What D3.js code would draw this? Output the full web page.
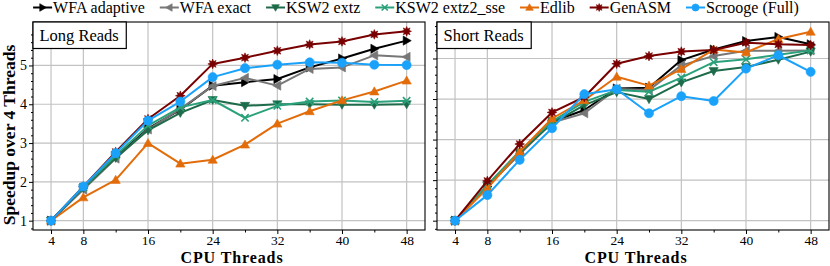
<!DOCTYPE html>
<html><head><meta charset="utf-8">
<script src="https://cdn.jsdelivr.net/npm/d3@7"></script>
<style>
html,body{margin:0;padding:0;background:#fff;}
svg text{font-family:"Liberation Serif","Times New Roman",serif;fill:#000;}
</style></head>
<body><svg id="c" width="830" height="266"></svg>
<script>
// ---- data ----
const threads = [4, 8, 12, 16, 20, 24, 28, 32, 36, 40, 44, 48];
const seriesNames = ["WFA adaptive", "WFA exact", "KSW2 extz", "KSW2 extz2_sse", "Edlib", "GenASM", "Scrooge (Full)"];
const panelTitles = ["Long Reads", "Short Reads"];
const xTickLabels = [4, 8, 16, 24, 32, 40, 48];
const xMinorTicks = [12, 20, 28, 36, 44];
const yTickLabels = [1, 2, 3, 4, 5];

const longWfaAdaptive = [1, 1.84, 2.64, 3.37, 3.86, 4.48, 4.57, 4.65, 4.95, 5.18, 5.43, 5.64];
const longWfaExact    = [1, 1.80, 2.60, 3.35, 3.88, 4.47, 4.68, 4.48, 4.91, 4.95, 5.26, 5.22];
const longKsw2Extz    = [1, 1.84, 2.62, 3.33, 3.78, 4.11, 3.96, 4.00, 4.00, 3.99, 3.99, 4.00];
const longKsw2Sse     = [1, 1.86, 2.68, 3.45, 3.92, 4.11, 3.65, 3.96, 4.07, 4.10, 4.06, 4.09];
const longEdlib       = [1, 1.60, 2.05, 3.00, 2.47, 2.57, 2.96, 3.50, 3.82, 4.10, 4.33, 4.61];
const longGenASM      = [1, 1.88, 2.77, 3.62, 4.22, 5.04, 5.20, 5.38, 5.54, 5.62, 5.80, 5.88];
const longScrooge     = [1, 1.88, 2.74, 3.58, 4.07, 4.70, 4.93, 5.02, 5.08, 5.07, 5.02, 5.01];

const shortWfaAdaptive = [1, 1.84, 2.66, 3.44, 3.73, 4.26, 4.28, 4.96, 5.22, 5.43, 5.53, 5.35];
const shortWfaExact    = [1, 1.84, 2.64, 3.42, 3.65, 4.25, 4.22, 4.83, 5.06, 5.19, 5.19, 5.20];
const shortKsw2Extz    = [1, 1.86, 2.68, 3.40, 3.85, 4.17, 4.00, 4.41, 4.69, 4.79, 4.97, 5.17];
const shortKsw2Sse     = [1, 1.88, 2.72, 3.45, 3.93, 4.22, 4.18, 4.53, 4.91, 4.98, 5.09, 5.20];
const shortEdlib       = [1, 1.80, 2.70, 3.52, 3.97, 4.55, 4.33, 4.74, 5.22, 5.15, 5.48, 5.66];
const shortGenASM      = [1, 1.98, 2.89, 3.67, 4.05, 4.87, 5.06, 5.17, 5.21, 5.39, 5.35, 5.33];
const shortScrooge     = [1, 1.63, 2.50, 3.28, 4.12, 4.24, 3.65, 4.07, 3.95, 4.75, 5.08, 4.67];

const longData  = [longWfaAdaptive, longWfaExact, longKsw2Extz, longKsw2Sse, longEdlib, longGenASM, longScrooge];
const shortData = [shortWfaAdaptive, shortWfaExact, shortKsw2Extz, shortKsw2Sse, shortEdlib, shortGenASM, shortScrooge];

// ---- styles ----
const colors  = ["#000000", "#777777", "#1d6b4a", "#2aa17b", "#e36c0a", "#780000", "#1aa2fb"];
const markers = ["tri-right", "tri-left", "tri-down", "x", "tri-up", "star8", "circle"];
const serif = "Liberation Serif, Times New Roman, serif";

const svg = d3.select("#c");

function markerPath(type, s) {
  const p = d3.path();
  if (type === "tri-right") { p.moveTo(s, 0); p.lineTo(-s*0.75, -s); p.lineTo(-s*0.75, s); p.closePath(); }
  else if (type === "tri-left") { p.moveTo(-s, 0); p.lineTo(s*0.75, -s); p.lineTo(s*0.75, s); p.closePath(); }
  else if (type === "tri-down") { p.moveTo(0, s); p.lineTo(-s, -s*0.75); p.lineTo(s, -s*0.75); p.closePath(); }
  else if (type === "tri-up") { p.moveTo(0, -s); p.lineTo(-s, s*0.75); p.lineTo(s, s*0.75); p.closePath(); }
  else if (type === "x") { const a = s*0.8; p.moveTo(-a, -a); p.lineTo(a, a); p.moveTo(-a, a); p.lineTo(a, -a); }
  else if (type === "star8") {
    for (let i = 0; i < 16; i++) {
      const r = i % 2 === 0 ? s*1.05 : s*0.55;
      const ang = i * Math.PI / 8;
      const px = r * Math.sin(ang), py = -r * Math.cos(ang);
      if (i === 0) p.moveTo(px, py); else p.lineTo(px, py);
    }
    p.closePath();
  }
  else if (type === "circle") { p.arc(0, 0, s*0.95, 0, 2*Math.PI); }
  return p.toString();
}

function drawMarker(g, type, color, cx, cy, s) {
  const path = g.append("path").attr("d", markerPath(type, s)).attr("transform", `translate(${cx},${cy})`);
  if (type === "x") path.attr("fill", "none").attr("stroke", color).attr("stroke-width", 1.6);
  else path.attr("fill", color).attr("stroke", color).attr("stroke-width", 0.6);
}

const panels = [
  { left: 33,  right: 425, yDomain: [0.76, 6.12], data: longData,  title: panelTitles[0], labels: true },
  { left: 437, right: 829, yDomain: [0.77, 5.90], data: shortData, title: panelTitles[1], labels: false }
];
const plotTop = 22, plotBottom = 230;

panels.forEach(pn => {
  const x = d3.scaleLinear().domain([1.77, 50.27]).range([pn.left, pn.right]);
  const y = d3.scaleLinear().domain(pn.yDomain).range([plotBottom, plotTop]);
  const g = svg.append("g");

  // grid
  g.append("g").selectAll("line").data(xTickLabels).join("line")
    .attr("x1", d => x(d)).attr("x2", d => x(d)).attr("y1", plotTop).attr("y2", plotBottom)
    .attr("stroke", "#c2c2c2").attr("stroke-width", 1.2);
  g.append("g").selectAll("line").data(yTickLabels).join("line")
    .attr("x1", pn.left).attr("x2", pn.right).attr("y1", d => y(d)).attr("y2", d => y(d))
    .attr("stroke", "#c2c2c2").attr("stroke-width", 1.2);

  // axes
  const xAxis = d3.axisBottom(x).tickValues(xTickLabels).tickSize(4).tickSizeOuter(0).tickPadding(1.5);
  const xa = g.append("g").attr("transform", `translate(0,${plotBottom})`).call(xAxis)
    .attr("font-family", serif).attr("font-size", 13.5);
  xa.select(".domain").remove();
  xa.selectAll("text").attr("font-family", serif).attr("font-size", 13.5);
  const xm = g.append("g").attr("transform", `translate(0,${plotBottom})`)
    .call(d3.axisBottom(x).tickValues(xMinorTicks).tickSize(2.5).tickFormat(""));
  xm.select(".domain").remove();

  const yMinor = d3.range(0.8, 6.01, 0.2).filter(v => Math.abs(v - Math.round(v)) > 0.05 && v >= pn.yDomain[0] && v <= pn.yDomain[1]);
  const ya = g.append("g").attr("transform", `translate(${pn.left},0)`)
    .call(d3.axisLeft(y).tickValues(yTickLabels).tickSize(4).tickPadding(2).tickFormat(pn.labels ? d3.format("d") : ""))
    .attr("font-family", serif).attr("font-size", 14);
  ya.select(".domain").remove();
  ya.selectAll("text").attr("font-family", serif).attr("font-size", 14);
  const ym = g.append("g").attr("transform", `translate(${pn.left},0)`)
    .call(d3.axisLeft(y).tickValues(yMinor).tickSize(2).tickFormat(""));
  ym.select(".domain").remove();

  // lines & markers
  pn.data.forEach((vals, si) => {
    const pts = threads.map((t, i) => [x(t), y(vals[i])]);
    g.append("path").attr("d", d3.line()(pts)).attr("fill", "none")
      .attr("stroke", colors[si]).attr("stroke-width", 2).attr("stroke-linejoin", "round");
    const mg = g.append("g");
    pts.forEach(p => drawMarker(mg, markers[si], colors[si], p[0], p[1], markers[si] === "circle" ? 4.8 : 4.6));
  });

  // frame
  g.append("rect").attr("x", pn.left).attr("y", plotTop).attr("width", pn.right - pn.left).attr("height", plotBottom - plotTop)
    .attr("fill", "none").attr("stroke", "#000").attr("stroke-width", 1.1);

  // title box
  const box = g.append("rect").attr("x", pn.left).attr("y", plotTop).attr("height", 26.5)
    .attr("fill", "#fff").attr("stroke", "#000").attr("stroke-width", 1.2);
  const tt = g.append("text").attr("x", pn.left + 6.5).attr("y", 41).attr("font-size", 16.5).text(pn.title);
  box.attr("width", tt.node().getComputedTextLength() + 14);

  // x label
  g.append("text").attr("x", (pn.left + pn.right) / 2 + 3).attr("y", 262.5).attr("text-anchor", "middle")
    .attr("font-size", 16).attr("font-weight", "bold").attr("letter-spacing", 0.9).text("CPU Threads");
});

// y label
svg.append("text").attr("transform", "translate(14.5,135) rotate(-90)").attr("text-anchor", "middle")
  .attr("font-size", 17.5).attr("font-weight", "bold").text("Speedup over 4 Threads");

// legend
const lg = svg.append("g");
let cx = 0;
seriesNames.forEach((name, i) => {
  const it = lg.append("g");
  it.append("line").attr("x1", 0).attr("x2", 19).attr("y1", 7.5).attr("y2", 7.5).attr("stroke", colors[i]).attr("stroke-width", 2);
  drawMarker(it, markers[i], colors[i], 9.5, 7.5, 3.8);
  const t = it.append("text").attr("x", 20).attr("y", 12.5).attr("font-size", 16).text(name);
  const w = 20 + t.node().getComputedTextLength();
  it.attr("transform", `translate(${cx},0)`);
  cx += w + 15;
});
const total = cx - 15;
lg.attr("transform", `translate(${(830 - total) / 2 + 1},0)`);
</script></body></html>
